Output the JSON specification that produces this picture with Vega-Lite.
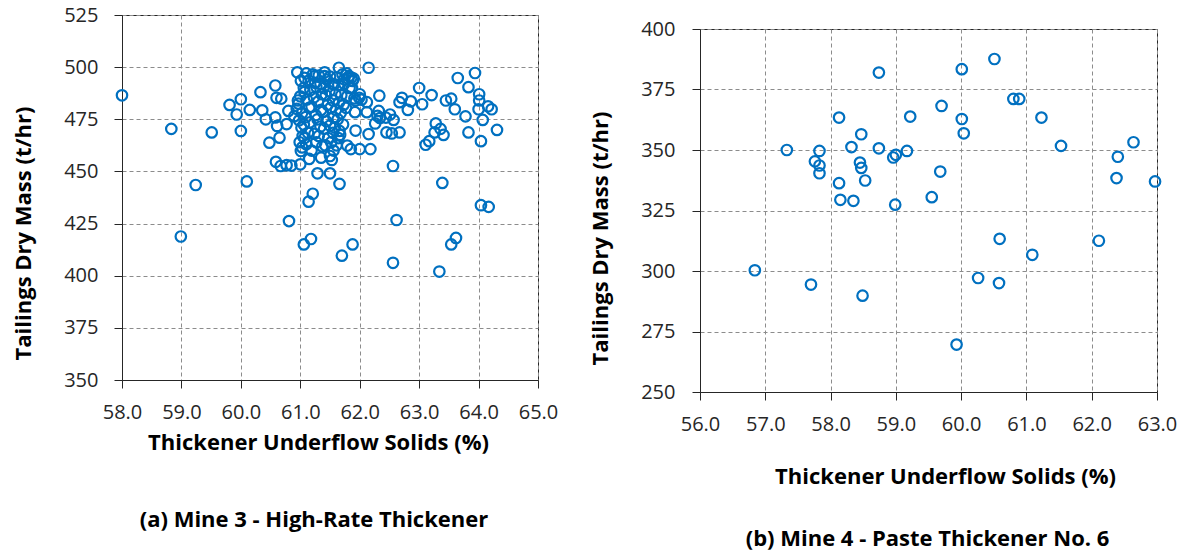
{
  "$schema": "https://vega.github.io/schema/vega-lite/v6.json",
  "background": "white",
  "padding": {"left": 11, "top": 4, "right": 0, "bottom": 0},
  "spacing": 29,
  "datasets": {
    "mine3": [
      {"solids": 58.0, "mass": 486.5}, {"solids": 58.83, "mass": 470.4}, {"solids": 59.24, "mass": 443.5}, {"solids": 58.99, "mass": 418.8},
      {"solids": 59.51, "mass": 468.7}, {"solids": 59.81, "mass": 481.9}, {"solids": 59.93, "mass": 477.3}, {"solids": 60.0, "mass": 484.6},
      {"solids": 60.0, "mass": 469.4}, {"solids": 60.1, "mass": 445.2}, {"solids": 60.15, "mass": 479.5}, {"solids": 60.33, "mass": 488.0},
      {"solids": 60.36, "mass": 479.3}, {"solids": 60.42, "mass": 475.0}, {"solids": 60.48, "mass": 463.8}, {"solids": 60.58, "mass": 491.2},
      {"solids": 60.58, "mass": 475.9}, {"solids": 60.6, "mass": 485.3}, {"solids": 60.68, "mass": 484.9}, {"solids": 60.61, "mass": 471.8},
      {"solids": 60.65, "mass": 466.2}, {"solids": 60.59, "mass": 454.6}, {"solids": 60.67, "mass": 452.6}, {"solids": 60.77, "mass": 453.0},
      {"solids": 60.85, "mass": 452.8}, {"solids": 60.77, "mass": 472.7}, {"solids": 60.8, "mass": 479.0}, {"solids": 60.81, "mass": 426.2},
      {"solids": 61.0, "mass": 453.4}, {"solids": 61.06, "mass": 415.0}, {"solids": 61.18, "mass": 417.6}, {"solids": 61.14, "mass": 435.5},
      {"solids": 61.21, "mass": 439.3}, {"solids": 61.29, "mass": 449.1}, {"solids": 61.5, "mass": 449.1}, {"solids": 61.66, "mass": 444.0},
      {"solids": 61.7, "mass": 409.6}, {"solids": 61.88, "mass": 415.0}, {"solids": 62.15, "mass": 499.7}, {"solids": 61.65, "mass": 499.7},
      {"solids": 60.95, "mass": 497.5}, {"solids": 62.56, "mass": 452.6}, {"solids": 62.56, "mass": 406.2}, {"solids": 62.62, "mass": 426.7},
      {"solids": 62.33, "mass": 486.3}, {"solids": 63.0, "mass": 490.0}, {"solids": 63.05, "mass": 482.2}, {"solids": 63.21, "mass": 486.6},
      {"solids": 62.71, "mass": 485.3}, {"solids": 62.67, "mass": 483.2}, {"solids": 62.86, "mass": 483.6}, {"solids": 62.81, "mass": 479.5},
      {"solids": 62.51, "mass": 477.3}, {"solids": 62.57, "mass": 474.7}, {"solids": 62.45, "mass": 468.7}, {"solids": 62.54, "mass": 468.2},
      {"solids": 62.67, "mass": 468.7}, {"solids": 62.32, "mass": 479.0}, {"solids": 62.34, "mass": 475.6}, {"solids": 62.26, "mass": 473.0},
      {"solids": 62.15, "mass": 467.9}, {"solids": 62.18, "mass": 460.7}, {"solids": 62.0, "mass": 460.7}, {"solids": 61.85, "mass": 460.7},
      {"solids": 61.79, "mass": 462.4}, {"solids": 61.93, "mass": 469.6}, {"solids": 61.92, "mass": 478.4}, {"solids": 62.0, "mass": 487.0},
      {"solids": 62.03, "mass": 484.4}, {"solids": 62.12, "mass": 483.2}, {"solids": 62.12, "mass": 478.4}, {"solids": 61.93, "mass": 484.0},
      {"solids": 63.11, "mass": 462.8}, {"solids": 63.17, "mass": 464.5}, {"solids": 63.26, "mass": 468.7}, {"solids": 63.28, "mass": 473.0},
      {"solids": 63.36, "mass": 470.4}, {"solids": 63.41, "mass": 467.5}, {"solids": 63.39, "mass": 444.5}, {"solids": 63.34, "mass": 402.0},
      {"solids": 63.45, "mass": 484.0}, {"solids": 63.54, "mass": 484.9}, {"solids": 63.6, "mass": 479.8}, {"solids": 63.65, "mass": 494.8},
      {"solids": 63.78, "mass": 476.4}, {"solids": 63.83, "mass": 490.4}, {"solids": 63.83, "mass": 468.7}, {"solids": 63.94, "mass": 497.2},
      {"solids": 64.01, "mass": 487.0}, {"solids": 64.01, "mass": 484.0}, {"solids": 64.0, "mass": 479.8}, {"solids": 64.04, "mass": 464.5},
      {"solids": 64.07, "mass": 474.7}, {"solids": 64.16, "mass": 481.2}, {"solids": 64.22, "mass": 479.8}, {"solids": 64.31, "mass": 469.9},
      {"solids": 64.04, "mass": 433.8}, {"solids": 64.17, "mass": 433.0}, {"solids": 63.54, "mass": 415.0}, {"solids": 63.62, "mass": 418.1},
      {"solids": 61.07, "mass": 494.9}, {"solids": 61.24, "mass": 495.7}, {"solids": 61.41, "mass": 495.7}, {"solids": 61.57, "mass": 491.8},
      {"solids": 61.74, "mass": 494.2}, {"solids": 61.88, "mass": 493.4}, {"solids": 61.82, "mass": 495.7}, {"solids": 61.99, "mass": 485.3},
      {"solids": 62.3, "mass": 476.6}, {"solids": 62.44, "mass": 475.8}, {"solids": 61.35, "mass": 456.6}, {"solids": 61.5, "mass": 457.4},
      {"solids": 61.66, "mass": 469.4}, {"solids": 61.01, "mass": 459.8},
      {"solids": 61.0, "mass": 486.0}, {"solids": 60.97, "mass": 482.5}, {"solids": 61.03, "mass": 478.0}, {"solids": 60.98, "mass": 474.5},
      {"solids": 61.02, "mass": 471.0}, {"solids": 61.04, "mass": 467.0}, {"solids": 60.99, "mass": 464.0}, {"solids": 61.03, "mass": 461.5},
      {"solids": 60.94, "mass": 480.0}, {"solids": 60.9, "mass": 476.5}, {"solids": 60.96, "mass": 484.0}, {"solids": 61.06, "mass": 490.0},
      {"solids": 61.01, "mass": 493.5},
      {"solids": 61.1, "mass": 497.0}, {"solids": 61.14, "mass": 493.5}, {"solids": 61.07, "mass": 488.0}, {"solids": 61.11, "mass": 484.5},
      {"solids": 61.15, "mass": 480.5}, {"solids": 61.09, "mass": 476.0}, {"solids": 61.06, "mass": 472.5}, {"solids": 61.13, "mass": 468.5},
      {"solids": 61.1, "mass": 463.0}, {"solids": 61.15, "mass": 456.0}, {"solids": 61.07, "mass": 466.0},
      {"solids": 61.21, "mass": 496.5}, {"solids": 61.25, "mass": 492.5}, {"solids": 61.17, "mass": 489.0}, {"solids": 61.23, "mass": 485.5},
      {"solids": 61.19, "mass": 481.0}, {"solids": 61.26, "mass": 477.0}, {"solids": 61.16, "mass": 473.5}, {"solids": 61.24, "mass": 468.0},
      {"solids": 61.27, "mass": 464.0}, {"solids": 61.19, "mass": 460.0},
      {"solids": 61.31, "mass": 496.0}, {"solids": 61.34, "mass": 492.0}, {"solids": 61.27, "mass": 490.5}, {"solids": 61.36, "mass": 487.0},
      {"solids": 61.3, "mass": 483.5}, {"solids": 61.35, "mass": 479.5}, {"solids": 61.29, "mass": 475.0}, {"solids": 61.34, "mass": 471.5},
      {"solids": 61.31, "mass": 467.0}, {"solids": 61.37, "mass": 462.0},
      {"solids": 61.41, "mass": 497.5}, {"solids": 61.45, "mass": 494.0}, {"solids": 61.39, "mass": 490.0}, {"solids": 61.43, "mass": 486.5},
      {"solids": 61.46, "mass": 482.0}, {"solids": 61.38, "mass": 478.5}, {"solids": 61.44, "mass": 474.0}, {"solids": 61.4, "mass": 470.5},
      {"solids": 61.47, "mass": 466.0}, {"solids": 61.42, "mass": 462.5},
      {"solids": 61.5, "mass": 495.5}, {"solids": 61.54, "mass": 492.0}, {"solids": 61.49, "mass": 488.5}, {"solids": 61.55, "mass": 484.0},
      {"solids": 61.51, "mass": 480.5}, {"solids": 61.56, "mass": 476.0}, {"solids": 61.5, "mass": 472.0}, {"solids": 61.55, "mass": 468.5},
      {"solids": 61.52, "mass": 464.0}, {"solids": 61.56, "mass": 460.0}, {"solids": 61.53, "mass": 455.5},
      {"solids": 61.61, "mass": 495.0}, {"solids": 61.64, "mass": 491.5}, {"solids": 61.59, "mass": 487.0}, {"solids": 61.65, "mass": 483.0},
      {"solids": 61.6, "mass": 479.5}, {"solids": 61.63, "mass": 475.0}, {"solids": 61.58, "mass": 471.0}, {"solids": 61.64, "mass": 466.0},
      {"solids": 61.61, "mass": 462.5},
      {"solids": 61.71, "mass": 496.5}, {"solids": 61.74, "mass": 492.0}, {"solids": 61.69, "mass": 486.5}, {"solids": 61.73, "mass": 482.0},
      {"solids": 61.68, "mass": 478.0}, {"solids": 61.72, "mass": 472.5}, {"solids": 61.67, "mass": 467.5},
      {"solids": 61.78, "mass": 497.0}, {"solids": 61.81, "mass": 494.5}, {"solids": 61.83, "mass": 490.0}, {"solids": 61.86, "mass": 495.0},
      {"solids": 61.79, "mass": 486.0}, {"solids": 61.77, "mass": 480.5},
      {"solids": 61.9, "mass": 494.5}, {"solids": 61.87, "mass": 490.0}, {"solids": 61.91, "mass": 485.0}
    ],
    "mine4": [
      {"solids": 56.84, "mass": 300.3}, {"solids": 57.33, "mass": 350.0}, {"solids": 57.7, "mass": 294.4}, {"solids": 57.76, "mass": 345.3},
      {"solids": 57.83, "mass": 349.6}, {"solids": 57.83, "mass": 343.6}, {"solids": 57.83, "mass": 340.4}, {"solids": 58.13, "mass": 363.4},
      {"solids": 58.13, "mass": 336.3}, {"solids": 58.15, "mass": 329.4}, {"solids": 58.32, "mass": 351.2}, {"solids": 58.35, "mass": 329.0},
      {"solids": 58.47, "mass": 356.5}, {"solids": 58.45, "mass": 344.8}, {"solids": 58.47, "mass": 342.6}, {"solids": 58.49, "mass": 289.8},
      {"solids": 58.53, "mass": 337.4}, {"solids": 58.74, "mass": 382.0}, {"solids": 58.74, "mass": 350.7}, {"solids": 58.96, "mass": 346.9},
      {"solids": 59.0, "mass": 348.0}, {"solids": 58.99, "mass": 327.4}, {"solids": 59.17, "mass": 349.6}, {"solids": 59.22, "mass": 363.8},
      {"solids": 59.55, "mass": 330.5}, {"solids": 59.7, "mass": 368.2}, {"solids": 59.68, "mass": 341.1}, {"solids": 59.93, "mass": 269.6},
      {"solids": 60.01, "mass": 383.4}, {"solids": 60.01, "mass": 362.8}, {"solids": 60.04, "mass": 356.9}, {"solids": 60.26, "mass": 297.1},
      {"solids": 60.51, "mass": 387.6}, {"solids": 60.59, "mass": 313.3}, {"solids": 60.58, "mass": 295.0}, {"solids": 60.8, "mass": 371.1},
      {"solids": 60.89, "mass": 371.1}, {"solids": 61.09, "mass": 306.7}, {"solids": 61.23, "mass": 363.4}, {"solids": 61.53, "mass": 351.7},
      {"solids": 62.11, "mass": 312.5}, {"solids": 62.38, "mass": 338.4}, {"solids": 62.4, "mass": 347.2}, {"solids": 62.64, "mass": 353.2},
      {"solids": 62.97, "mass": 337.0}
    ]
  },
  "hconcat": [
    {
      "width": 416,
      "height": 365,
      "data": {"name": "mine3"},
      "mark": {"type": "point", "shape": "circle", "filled": false, "color": "#0070C0", "strokeWidth": 2.2, "size": 110, "opacity": 1},
      "encoding": {
        "x": {"field": "solids", "type": "quantitative", "scale": {"domain": [58, 65], "nice": false, "zero": false},
          "axis": {"values": [58, 59, 60, 61, 62, 63, 64, 65], "format": ".1f", "labelFlush": false, "labelOverlap": false, "labelPadding": 14,
            "title": "Thickener Underflow Solids (%)", "titleX": 196, "titleY": 62, "titleBaseline": "middle", "titleAlign": "center"}},
        "y": {"field": "mass", "type": "quantitative", "scale": {"domain": [350, 525], "nice": false, "zero": false},
          "axis": {"values": [350, 375, 400, 425, 450, 475, 500, 525], "format": "d", "labelFlush": false, "labelOverlap": false, "labelPadding": 16,
            "title": "Tailings Dry Mass (t/hr)", "titleX": -99, "titleY": 218, "titleBaseline": "middle", "titleAlign": "center", "titleAngle": -90}}
      },
      "title": {"text": "(a) Mine 3  - High-Rate Thickener", "orient": "bottom", "frame": "group", "anchor": "middle", "offset": 57, "dx": -16}
    },
    {
      "spacing": 2,
      "vconcat": [
        {
          "width": 457,
          "height": 1,
          "view": {"stroke": null},
          "data": {"values": [{"spacer": 1}]},
          "mark": {"type": "point", "opacity": 0, "size": 1},
          "encoding": {}
        },
        {
          "width": 457,
          "height": 363,
          "data": {"name": "mine4"},
          "mark": {"type": "point", "shape": "circle", "filled": false, "color": "#0070C0", "strokeWidth": 2.2, "size": 110, "opacity": 1},
          "encoding": {
            "x": {"field": "solids", "type": "quantitative", "scale": {"domain": [56, 63], "nice": false, "zero": false},
              "axis": {"values": [56, 57, 58, 59, 60, 61, 62, 63], "format": ".1f", "labelFlush": false, "labelOverlap": false, "labelPadding": 14,
                "title": "Thickener Underflow Solids (%)", "titleX": 245, "titleY": 84, "titleBaseline": "middle", "titleAlign": "center"}},
            "y": {"field": "mass", "type": "quantitative", "scale": {"domain": [250, 400], "nice": false, "zero": false},
              "axis": {"values": [250, 275, 300, 325, 350, 375, 400], "format": "d", "labelFlush": false, "labelOverlap": false, "labelPadding": 17,
                "title": "Tailings Dry Mass (t/hr)", "titleX": -100, "titleY": 209, "titleBaseline": "middle", "titleAlign": "center", "titleAngle": -90}}
          },
          "title": {"text": "(b) Mine 4 - Paste Thickener No. 6", "orient": "bottom", "frame": "group", "anchor": "middle", "offset": 42, "dx": -1}
        }
      ]
    }
  ],
  "config": {
    "font": "Open Sans",
    "view": {"stroke": "#262626", "strokeWidth": 1},
    "axis": {
      "domainColor": "#262626", "tickColor": "#262626", "tickSize": 8, "ticks": true,
      "gridColor": "#8c8c8c", "gridDash": [4, 3], "gridWidth": 1,
      "labelFont": "Open Sans", "labelFontSize": 20, "labelColor": "#262626",
      "titleFont": "Open Sans", "titleFontSize": 22, "titleFontWeight": "bold", "titleColor": "#000000"
    },
    "title": {"font": "Open Sans", "fontSize": 22, "fontWeight": "bold", "color": "#000000"}
  }
}
